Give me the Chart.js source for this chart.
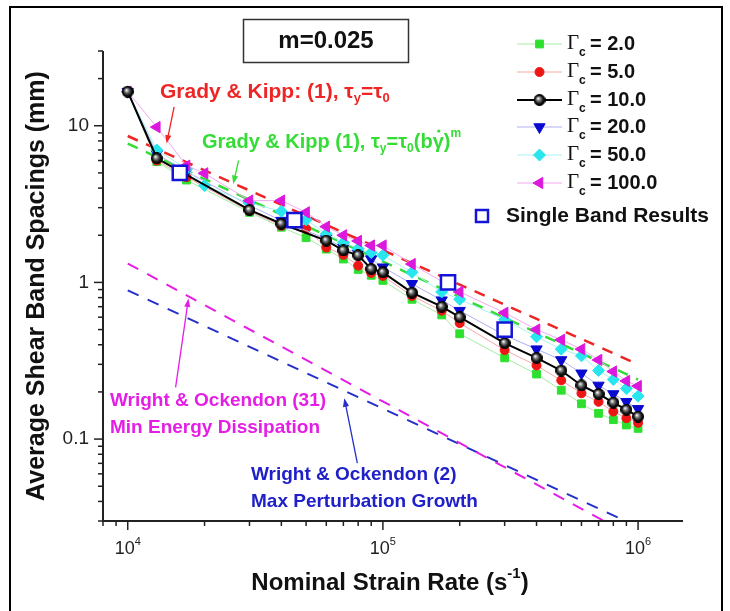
<!DOCTYPE html>
<html>
<head>
<meta charset="utf-8">
<title>Average shear band spacing vs nominal strain rate</title>
<script src="https://cdn.jsdelivr.net/npm/chart.js@4.4.1/dist/chart.umd.min.js"></script>
<style>
  html, body { margin: 0; padding: 0; background: #fff; }
  canvas { display: block; }
</style>
</head>
<body>
<canvas id="chart" width="730" height="611"></canvas>
<script>
// ── data (strain rate in 1/s, spacing in mm) ──
const strainRates = [1e4, 1.3e4, 1.7e4, 2e4, 3e4, 4e4, 5e4, 6e4, 7e4, 8e4, 9e4, 1e5,
  1.3e5, 1.7e5, 2e5, 3e5, 4e5, 5e5, 6e5, 7e5, 8e5, 9e5, 1e6];

const spacingG2 = [16.5, 5.9, 4.5, null, 2.8, 2.25, 1.93, 1.63, 1.41, 1.21, 1.11, 1.03,
  0.78, 0.62, 0.47, 0.33, 0.26, 0.205, 0.168, 0.146, 0.133, 0.123, 0.117];
const spacingG5 = [16.5, 6.0, 4.7, null, 2.85, 2.3, 2.2, 1.67, 1.5, 1.28, 1.15, 1.1,
  0.82, 0.66, 0.55, 0.37, 0.295, 0.237, 0.196, 0.173, 0.15, 0.136, 0.127];
const spacingG10 = [16.5, 6.2, null, null, 2.9, 2.37, null, 1.85, 1.6, 1.49, 1.22, 1.16,
  0.86, 0.70, 0.60, 0.41, 0.33, 0.274, 0.22, 0.194, 0.171, 0.154, 0.139];
const spacingG20 = [16.5, 6.6, 5.1, null, 3.1, 2.48, null, 1.9, 1.67, 1.53, 1.41, 1.25,
  0.98, 0.77, 0.66, 0.46, 0.375, 0.32, 0.263, 0.22, 0.194, 0.173, 0.156];
const spacingG50 = [16.5, 7.0, 5.3, 4.15, 3.2, 2.85, 2.51, 2.04, 1.8, 1.64, 1.55, 1.49,
  1.16, 0.87, 0.78, 0.58, 0.45, 0.375, 0.34, 0.274, 0.24, 0.21, 0.188];
const spacingG100 = [16.5, 9.8, 5.56, 4.97, 3.33, 3.33, 2.8, 2.27, 2.0, 1.84, 1.72, 1.72,
  1.31, null, 0.87, 0.64, 0.5, 0.43, 0.375, 0.32, 0.27, 0.235, 0.218];

const singleBandRates = [1.6e4, 4.5e4, 1.8e5, 3e5];
const singleBandSpacings = [5.0, 2.5, 1.0, 0.5];

// theory lines (end points)
const theoryRates = [1e4, 1e6];
const gradyConst = [8.6, 0.30];
const gradyRateDep = [7.7, 0.24];
const wrightMinEnergy = [1.32, 0.0229];
const wrightMaxGrowth = [0.89, 0.0275];

const gammaLabels = ['2.0', '5.0', '10.0', '20.0', '50.0', '100.0'];
const xMajorTicks = [1e4, 1e5, 1e6];
const xTickExponents = ['4', '5', '6'];
const yMajorTicks = [0.1, 1, 10];
const yTickLabels = ['0.1', '1', '10'];

const FONT = '"Liberation Sans", Arial, sans-serif';

// black "ball" marker used by the Γc = 10 run
function makeBall(d) {
  const c = document.createElement('canvas');
  c.width = d; c.height = d;
  const g = c.getContext('2d');
  const r = d / 2 - 0.5;
  const grad = g.createRadialGradient(d * 0.38, d * 0.36, 0.3, d / 2, d / 2, r);
  grad.addColorStop(0, '#ffffff');
  grad.addColorStop(0.35, '#777777');
  grad.addColorStop(0.75, '#111111');
  grad.addColorStop(1, '#000000');
  g.beginPath();
  g.arc(d / 2, d / 2, r, 0, Math.PI * 2);
  g.fillStyle = grad;
  g.fill();
  g.lineWidth = 1;
  g.strokeStyle = '#000';
  g.stroke();
  return c;
}
const ball = makeBall(12);

function toPoints(xs, ys) {
  return xs.map((x, i) => ({ x, y: ys[i] })).filter(p => p.y !== null);
}

const runs = [
  { values: spacingG2, line: '#a6eca6', color: '#2ee02e', style: 'rect', radius: 5.5, rot: 0 },
  { values: spacingG5, line: '#f7a8a8', color: '#ee1515', style: 'circle', radius: 4.5, rot: 0 },
  { values: spacingG10, line: '#000000', color: '#000000', style: ball, radius: 6, rot: 0 },
  { values: spacingG20, line: '#b0b0f2', color: '#0a0ad0', style: 'triangle', radius: 6.5, rot: 180 },
  { values: spacingG50, line: '#a8f2f2', color: '#28e6ee', style: 'rectRot', radius: 6, rot: 0 },
  { values: spacingG100, line: '#f2aaf2', color: '#dd18dd', style: 'triangle', radius: 6.5, rot: 270 },
];
const runOrder = [6, 5, 1, 4, 3, 2];

const datasets = runs.map((r, i) => ({
  label: 'Γc = ' + gammaLabels[i],
  data: toPoints(strainRates, r.values),
  showLine: true,
  borderColor: r.line,
  borderWidth: r.style === ball ? 2 : 1,
  pointStyle: r.style,
  rotation: r.rot,
  pointRadius: r.radius,
  pointBackgroundColor: r.color,
  pointBorderColor: r.color,
  pointBorderWidth: 1,
  order: runOrder[i],
}));

datasets.push({
  label: 'Single Band Results',
  data: toPoints(singleBandRates, singleBandSpacings),
  showLine: false,
  pointStyle: 'rect',
  pointRadius: 10,
  pointBackgroundColor: '#ffffff',
  pointBorderColor: '#1414d8',
  pointBorderWidth: 2.5,
  order: 0,
});

const theory = [
  { values: gradyConst, color: '#ee2525', dash: [11, 9], width: 2.5 },
  { values: gradyRateDep, color: '#35dc35', dash: [11, 9], width: 2.5 },
  { values: wrightMinEnergy, color: '#e51ee5', dash: [12, 10], width: 2 },
  { values: wrightMaxGrowth, color: '#2430c8', dash: [12, 10], width: 2 },
];
theory.forEach((t, i) => datasets.push({
  data: toPoints(theoryRates, t.values),
  showLine: true,
  borderColor: t.color,
  borderWidth: t.width,
  borderDash: t.dash,
  pointRadius: 0,
  order: 10 + i,
}));

// text with sub/superscript pieces: [text, 'n' | 'sub' | 'sup' | 'dot']
function drawRuns(ctx, pieces, x, y, size, color, weight = 'bold') {
  ctx.save();
  ctx.fillStyle = color;
  ctx.textAlign = 'left';
  ctx.textBaseline = 'middle';
  let cx = x;
  pieces.forEach(([t, kind]) => {
    const small = kind === 'sub' || kind === 'sup';
    ctx.font = `${weight} ${small ? Math.round(size * 0.62) : size}px ${FONT}`;
    const dy = kind === 'sub' ? size * 0.32 : kind === 'sup' ? -size * 0.4 : 0;
    ctx.fillText(t, cx, y + dy);
    const w = ctx.measureText(t).width;
    if (kind === 'dot') {
      ctx.beginPath();
      ctx.arc(cx + w * 0.55, y - size * 0.55, 1.6, 0, Math.PI * 2);
      ctx.fill();
    }
    cx += w;
  });
  ctx.restore();
  return cx - x;
}

function measureRuns(ctx, pieces, size, weight = 'bold') {
  let w = 0;
  pieces.forEach(([t, kind]) => {
    const small = kind === 'sub' || kind === 'sup';
    ctx.font = `${weight} ${small ? Math.round(size * 0.62) : size}px ${FONT}`;
    w += ctx.measureText(t).width;
  });
  return w;
}

function drawArrow(ctx, x1, y1, x2, y2, color) {
  const ang = Math.atan2(y2 - y1, x2 - x1);
  ctx.save();
  ctx.strokeStyle = color;
  ctx.fillStyle = color;
  ctx.lineWidth = 1.3;
  ctx.beginPath();
  ctx.moveTo(x1, y1);
  ctx.lineTo(x2 - Math.cos(ang) * 6, y2 - Math.sin(ang) * 6);
  ctx.stroke();
  ctx.beginPath();
  ctx.moveTo(x2, y2);
  ctx.lineTo(x2 - Math.cos(ang - 0.35) * 9, y2 - Math.sin(ang - 0.35) * 9);
  ctx.lineTo(x2 - Math.cos(ang + 0.35) * 9, y2 - Math.sin(ang + 0.35) * 9);
  ctx.closePath();
  ctx.fill();
  ctx.restore();
}

// arrows anchored in data coordinates: [rate, spacing]
const arrows = [
  { from: [1.52e4, 13.2], to: [1.42e4, 7.7], color: '#ee2525' },
  { from: [2.72e4, 6.0], to: [2.59e4, 4.25], color: '#35dc35' },
  { from: [1.54e4, 0.214], to: [1.73e4, 0.79], color: '#e51ee5' },
  { from: [7.94e4, 0.0703], to: [7.06e4, 0.182], color: '#2430c8' },
];

const decorations = {
  id: 'decorations',
  beforeDraw(chart) {
    const { ctx, width, height } = chart;
    ctx.save();
    ctx.fillStyle = '#fff';
    ctx.fillRect(0, 0, width, height);
    ctx.strokeStyle = '#000';
    ctx.lineWidth = 2;
    ctx.beginPath();
    ctx.moveTo(10, height);
    ctx.lineTo(10, 7);
    ctx.lineTo(722, 7);
    ctx.lineTo(722, height);
    ctx.stroke();
    ctx.restore();
  },
  afterDraw(chart) {
    const { ctx, chartArea: a } = chart;
    const xs = chart.scales.x;
    const ys = chart.scales.y;

    ctx.save();
    ctx.strokeStyle = '#222';
    ctx.lineWidth = 2;
    ctx.beginPath();
    ctx.moveTo(a.left, a.top);
    ctx.lineTo(a.left, a.bottom);
    ctx.lineTo(a.right, a.bottom);
    ctx.stroke();

    // minor + major ticks, outward
    ctx.lineWidth = 1.5;
    [3, 4, 5, 6].forEach(e => {
      for (let k = 1; k <= 9; k++) {
        const v = k * Math.pow(10, e);
        if (v < xs.min || v > xs.max) continue;
        const px = xs.getPixelForValue(v);
        ctx.beginPath();
        ctx.moveTo(px, a.bottom);
        ctx.lineTo(px, a.bottom + (k === 1 ? 9 : 5));
        ctx.stroke();
      }
    });
    [-2, -1, 0, 1].forEach(e => {
      for (let k = 1; k <= 9; k++) {
        const v = k * Math.pow(10, e);
        if (v < ys.min * 0.999 || v > ys.max * 1.001) continue;
        const py = ys.getPixelForValue(v);
        ctx.beginPath();
        ctx.moveTo(a.left, py);
        ctx.lineTo(a.left - (k === 1 ? 9 : 5), py);
        ctx.stroke();
      }
    });

    // tick labels
    ctx.fillStyle = '#222';
    ctx.textBaseline = 'middle';
    ctx.textAlign = 'right';
    ctx.font = `19px ${FONT}`;
    yMajorTicks.forEach((v, i) => {
      ctx.fillText(yTickLabels[i], a.left - 14, ys.getPixelForValue(v));
    });
    xMajorTicks.forEach((v, i) => {
      const px = xs.getPixelForValue(v);
      const pieces = [['10', 'n'], [xTickExponents[i], 'sup']];
      const w = measureRuns(ctx, pieces, 18, 'normal');
      drawRuns(ctx, pieces, px - w / 2, a.bottom + 28, 18, '#222', 'normal');
    });

    // axis titles
    const xTitle = [['Nominal Strain Rate (s', 'n'], ['-1', 'sup'], [')', 'n']];
    const wt = measureRuns(ctx, xTitle, 24);
    drawRuns(ctx, xTitle, (a.left + a.right) / 2 - wt / 2 - 3, 583, 24, '#111');
    ctx.translate(37, (a.top + a.bottom) / 2);
    ctx.rotate(-Math.PI / 2);
    ctx.textAlign = 'center';
    ctx.font = `bold 25px ${FONT}`;
    ctx.fillStyle = '#111';
    ctx.fillText('Average Shear Band Spacings (mm)', 0, 0);
    ctx.restore();

    // m box
    ctx.save();
    ctx.strokeStyle = '#333';
    ctx.lineWidth = 1.5;
    ctx.strokeRect(243.5, 19.5, 165, 43);
    ctx.fillStyle = '#111';
    ctx.font = `bold 24px ${FONT}`;
    ctx.textAlign = 'center';
    ctx.textBaseline = 'middle';
    ctx.fillText('m=0.025', 326, 41);
    ctx.restore();

    // annotations
    drawRuns(ctx, [['Grady & Kipp: (1), τ', 'n'], ['y', 'sub'], ['=τ', 'n'], ['0', 'sub']],
      160, 92, 21, '#ee2525');
    drawRuns(ctx, [['Grady & Kipp (1), τ', 'n'], ['y', 'sub'], ['=τ', 'n'], ['0', 'sub'],
      ['(b', 'n'], ['γ', 'dot'], [')', 'n'], ['m', 'sup']], 202, 142, 20, '#35dc35');
    drawRuns(ctx, [['Wright & Ockendon (31)', 'n']], 110, 401, 19, '#e51ee5');
    drawRuns(ctx, [['Min Energy Dissipation', 'n']], 110, 428, 19, '#e51ee5');
    drawRuns(ctx, [['Wright & Ockendon (2)', 'n']], 251, 475, 19, '#2020c8');
    drawRuns(ctx, [['Max Perturbation Growth', 'n']], 251, 502, 19, '#2020c8');

    arrows.forEach(ar => {
      drawArrow(ctx,
        xs.getPixelForValue(ar.from[0]), ys.getPixelForValue(ar.from[1]),
        xs.getPixelForValue(ar.to[0]), ys.getPixelForValue(ar.to[1]), ar.color);
    });

    // legend
    const rowY = [44, 72, 100, 127, 155, 183];
    const drawPoint = Chart.helpers && Chart.helpers.drawPoint;
    runs.forEach((r, i) => {
      const y = rowY[i];
      ctx.save();
      ctx.strokeStyle = r.line;
      ctx.lineWidth = r.style === ball ? 2 : 1;
      ctx.beginPath();
      ctx.moveTo(517, y);
      ctx.lineTo(562, y);
      ctx.stroke();
      ctx.fillStyle = r.color;
      ctx.strokeStyle = r.color;
      ctx.lineWidth = 1;
      if (drawPoint) {
        drawPoint(ctx, { pointStyle: r.style, rotation: r.rot, radius: r.radius, borderWidth: 1 }, 539.5, y);
      }
      ctx.fillStyle = '#111';
      ctx.textBaseline = 'middle';
      ctx.textAlign = 'left';
      ctx.font = `21px "Liberation Serif", "Times New Roman", serif`;
      ctx.fillText('Γ', 567, y - 1);
      ctx.font = `bold 12px ${FONT}`;
      ctx.fillText('c', 579, y + 9);
      ctx.font = `bold 20px ${FONT}`;
      ctx.fillText('= ' + gammaLabels[i], 590, y);
      ctx.restore();
    });
    ctx.save();
    ctx.strokeStyle = '#1414d8';
    ctx.lineWidth = 2.5;
    ctx.strokeRect(476, 210, 12, 12);
    ctx.fillStyle = '#111';
    ctx.font = `bold 21px ${FONT}`;
    ctx.textBaseline = 'middle';
    ctx.fillText('Single Band Results', 506, 216);
    ctx.restore();
  },
};

new Chart(document.getElementById('chart').getContext('2d'), {
  type: 'scatter',
  data: { datasets },
  options: {
    responsive: false,
    animation: false,
    layout: { padding: { left: 103, right: 47, top: 51, bottom: 90 } },
    plugins: { legend: { display: false }, tooltip: { enabled: false } },
    scales: {
      x: { type: 'logarithmic', min: 8000, max: 1.5e6, display: false },
      y: { type: 'logarithmic', min: 0.03, max: 30, display: false },
    },
  },
  plugins: [decorations],
});
</script>
</body>
</html>
